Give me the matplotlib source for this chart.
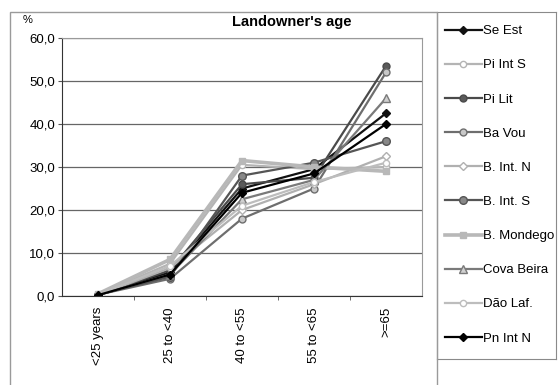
import matplotlib.pyplot as plt
from matplotlib.lines import Line2D
from matplotlib.patches import Rectangle

plt.rcParams['font.family'] = ['Liberation Sans', 'DejaVu Sans']

# age classes and shares (%) per region
age_classes = ['<25 years', '25 to <40', '40 to <55', '55 to <65', '>=65']
regions = ['Se Est', 'Pi Int S', 'Pi Lit', 'Ba Vou', 'B. Int. N',
           'B. Int. S', 'B. Mondego', 'Cova Beira', 'Dão Laf.', 'Pn Int N']
se_est = [0.3, 5.5, 25.0, 29.5, 42.5]
pi_int_s = [0.4, 7.5, 30.5, 29.5, 30.0]
pi_lit = [0.2, 6.0, 26.0, 27.5, 53.5]
ba_vou = [0.3, 4.0, 18.0, 25.0, 52.0]
b_int_n = [0.2, 6.5, 20.0, 26.0, 32.5]
b_int_s = [0.3, 4.5, 28.0, 31.0, 36.0]
b_mondego = [0.5, 8.5, 31.5, 30.0, 29.0]
cova_beira = [0.2, 5.0, 22.5, 27.0, 46.0]
dao_laf = [0.3, 7.0, 21.0, 26.5, 31.0]
pn_int_n = [0.2, 5.0, 24.0, 28.5, 40.0]

series = [se_est, pi_int_s, pi_lit, ba_vou, b_int_n,
          b_int_s, b_mondego, cova_beira, dao_laf, pn_int_n]

# line colour, marker, marker face, line width, marker size
styles = [
    ('#111111', 'D', '#111111', 1.6, 4),
    ('#b4b4b4', 'o', '#ffffff', 1.6, 4.5),
    ('#4a4a4a', 'o', '#5a5a5a', 1.6, 5),
    ('#6e6e6e', 'o', '#c8c8c8', 1.6, 5),
    ('#b0b0b0', 'D', '#ffffff', 1.6, 4),
    ('#555555', 'o', '#888888', 1.6, 5.5),
    ('#b8b8b8', 's', '#b8b8b8', 2.6, 4),
    ('#7a7a7a', '^', '#d0d0d0', 1.6, 5.5),
    ('#bdbdbd', 'o', '#ffffff', 1.6, 4.5),
    ('#000000', 'D', '#000000', 1.6, 4),
]

W, H = 559, 385
fs = 9.5
fig = plt.figure(figsize=(W / 100, H / 100), dpi=100)

# outer chart frame
fig.patches.append(Rectangle((10 / W, -0.1), 427 / W, 1 - 12 / H + 0.1,
                             transform=fig.transFigure, fill=False,
                             edgecolor='#9a9a9a', lw=1.0))

ax = fig.add_axes([62 / W, 1 - 296 / H, 360 / W, 258 / H])
x = list(range(len(age_classes)))
for vals, (c, m, fc, lw, ms) in zip(series, styles):
    ax.plot(x, vals, color=c, lw=lw, marker=m, markersize=ms,
            markerfacecolor=fc, markeredgecolor=c, markeredgewidth=1.0)

ax.set_xlim(-0.5, len(age_classes) - 0.5)
ax.set_ylim(0, 60)
ax.set_yticks(range(0, 61, 10))
ax.set_yticklabels([f'{v:.1f}'.replace('.', ',') for v in range(0, 61, 10)],
                   fontsize=fs)
ax.yaxis.grid(True, color='#666666', lw=0.9)
ax.set_axisbelow(True)
ax.set_xticks(x)
ax.set_xticklabels(age_classes, rotation=90, fontsize=fs)
ax.tick_params(axis='x', length=0, pad=8)
ax.set_xticks([i - 0.5 for i in range(1, len(age_classes))], minor=True)
ax.tick_params(axis='x', which='minor', length=3, color='#555555')
ax.tick_params(axis='y', length=3, color='#555555', pad=2)
for side in ['top', 'right']:
    ax.spines[side].set_color('#9a9a9a')
for side in ['left', 'bottom']:
    ax.spines[side].set_color('#333333')

fig.text(292 / W, 1 - 22 / H, "Landowner's age", ha='center', va='center',
         fontsize=10.5, fontweight='bold')
fig.text(28 / W, 1 - 20 / H, '%', ha='center', va='center', fontsize=8)

# legend box on the right
lax = fig.add_axes([437 / W, 1 - 359 / H, 119 / W, 347 / H])
lax.set_xticks([])
lax.set_yticks([])
for sp in lax.spines.values():
    sp.set_color('#8a8a8a')
handles = [Line2D([], [], color=c, lw=lw, marker=m, markersize=ms,
                  markerfacecolor=fc, markeredgecolor=c)
           for (c, m, fc, lw, ms) in styles]
lax.legend(handles, regions, loc='upper left', frameon=False, fontsize=fs,
           handlelength=2.8, handletextpad=0.1, labelspacing=1.66,
           borderaxespad=0.2, bbox_to_anchor=(0.0, 0.985))

fig.savefig('out.png', dpi=100)
